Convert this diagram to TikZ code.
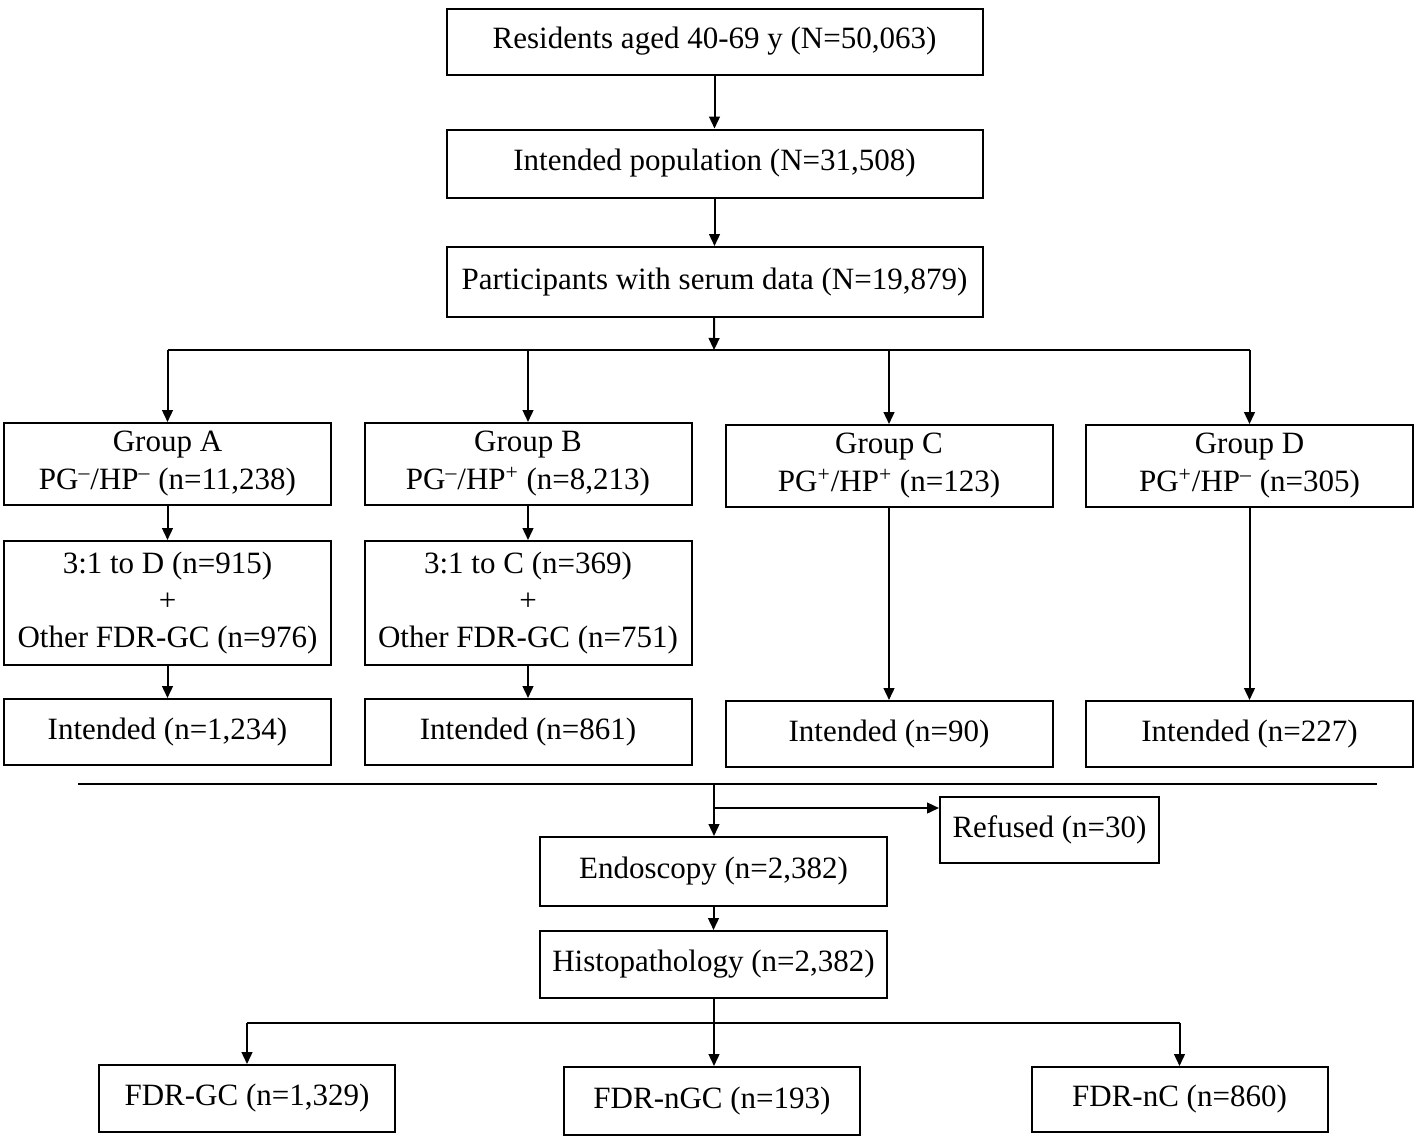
\documentclass[tikz,border=0pt]{standalone}
\usepackage{fontspec}
\setmainfont{Liberation Serif}
\usetikzlibrary{arrows.meta}

\newcommand{\sneg}{\textsuperscript{–}}
\newcommand{\spos}{\textsuperscript{+}}

\begin{document}
\begin{tikzpicture}[x=0.5pt, y=-0.5pt, line width=1pt,
    box/.style={draw, rectangle, inner sep=0pt, align=center, font=\fontsize{15.5}{18.5}\selectfont},
    arr/.style={-{Triangle[length=6pt, width=5.4pt]}}]
      \useasboundingbox (0,0) rectangle (1418,1136);

      % Nodes
      \node[box, minimum width=268pt, minimum height=33pt] at (714.5, 41.5) (res) {Residents aged 40-69 y (N=50,063)};
      \node[box, minimum width=268pt, minimum height=34pt] at (714.5, 163.5) (intpop) {Intended population (N=31,508)};
      \node[box, minimum width=268pt, minimum height=35pt] at (714.5, 282) (serum) {Participants with serum data (N=19,879)};

      \node[box, minimum width=163.5pt, minimum height=41pt, font=\fontsize{15.5}{19}\selectfont] at (167.5, 464) (ga) {Group A\\PG\sneg/HP\sneg{} (n=11,238)};
      \node[box, minimum width=163.5pt, minimum height=41pt, font=\fontsize{15.5}{19}\selectfont] at (528, 464) (gb) {Group B\\PG\sneg/HP\spos{} (n=8,213)};
      \node[box, minimum width=163.5pt, minimum height=41pt, font=\fontsize{15.5}{19}\selectfont] at (889, 466) (gc) {Group C\\PG\spos/HP\spos{} (n=123)};
      \node[box, minimum width=163.5pt, minimum height=41pt, font=\fontsize{15.5}{19}\selectfont] at (1249.5, 466) (gd) {Group D\\PG\spos/HP\sneg{} (n=305)};

      \node[box, minimum width=163.5pt, minimum height=62pt] at (167.5, 603) (ma) {3:1 to D (n=915)\\+\\Other FDR-GC (n=976)};
      \node[box, minimum width=163.5pt, minimum height=62pt] at (528, 603) (mb) {3:1 to C (n=369)\\+\\Other FDR-GC (n=751)};

      \node[box, minimum width=163.5pt, minimum height=33pt] at (167.5, 732) (ia) {Intended (n=1,234)};
      \node[box, minimum width=163.5pt, minimum height=33pt] at (528, 732) (ib) {Intended (n=861)};
      \node[box, minimum width=163.5pt, minimum height=33pt] at (889, 734) (ic) {Intended (n=90)};
      \node[box, minimum width=163.5pt, minimum height=33pt] at (1249.5, 734) (id) {Intended (n=227)};

      \node[box, minimum width=109.5pt, minimum height=33pt] at (1049.5, 830) (ref) {Refused (n=30)};
      \node[box, minimum width=173.5pt, minimum height=34.5pt] at (713.5, 871.5) (endo) {Endoscopy (n=2,382)};
      \node[box, minimum width=173.5pt, minimum height=33.5pt] at (713.5, 964.5) (histo) {Histopathology (n=2,382)};

      \node[box, minimum width=148pt, minimum height=33.5pt] at (247, 1098.5) (gcf) {FDR-GC (n=1,329)};
      \node[box, minimum width=148pt, minimum height=34pt] at (712, 1101) (ngc) {FDR-nGC (n=193)};
      \node[box, minimum width=148pt, minimum height=32.5pt] at (1179.5, 1099.5) (nc) {FDR-nC (n=860)};

      % Coordinates
      \coordinate (split) at (714, 350);
      \coordinate (divl) at (78, 784);
      \coordinate (divr) at (1377, 784);
      \coordinate (divm) at (714, 784);
      \coordinate (fork) at (714, 808);
      \coordinate (split2) at (714, 1023);

      % Edges
      \draw[arr] (res) -- (intpop);
      \draw[arr] (intpop) -- (serum);
      \draw[arr] (serum) -- (split);
      \draw (split -| ga.north) -- (split -| gd.north);
      \draw[arr] (split -| ga.north) -- (ga.north);
      \draw[arr] (split -| gb.north) -- (gb.north);
      \draw[arr] (split -| gc.north) -- (gc.north);
      \draw[arr] (split -| gd.north) -- (gd.north);

      \draw[arr] (ga) -- (ma);
      \draw[arr] (gb) -- (mb);
      \draw[arr] (ma) -- (ia);
      \draw[arr] (mb) -- (ib);
      \draw[arr] (gc) -- (ic);
      \draw[arr] (gd) -- (id);

      \draw (divl) -- (divr);
      \draw[arr] (divm) -- (endo.north -| divm);
      \draw[arr] (fork) -- (ref.west |- fork);
      \draw[arr] (endo) -- (histo);

      \draw (split2 -| gcf.north) -- (split2 -| nc.north);
      \draw[arr] (histo.south -| split2) -- (ngc.north -| split2);
      \draw[arr] (split2 -| gcf.north) -- (gcf.north);
      \draw[arr] (split2 -| nc.north) -- (nc.north);
\end{tikzpicture}
\end{document}
